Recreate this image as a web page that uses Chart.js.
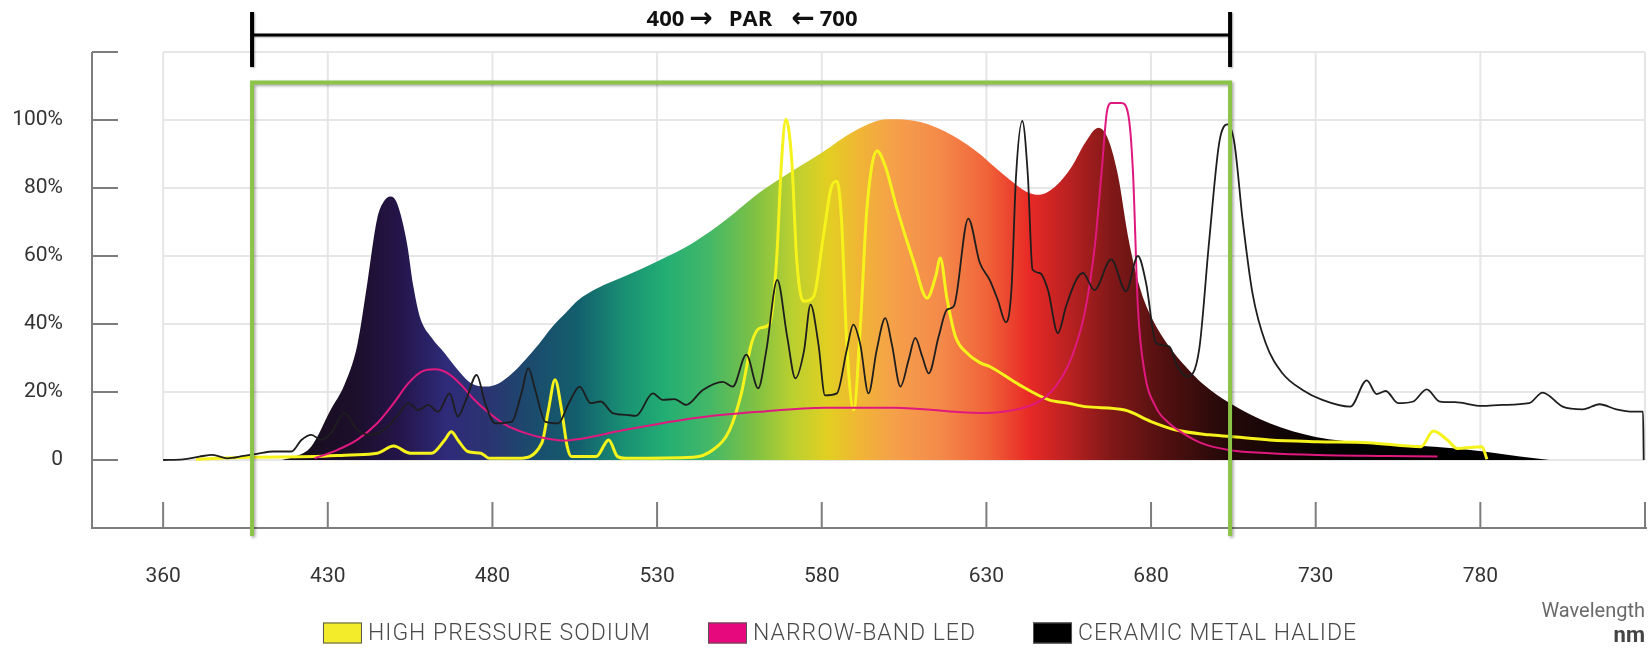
<!DOCTYPE html>
<html>
<head>
<meta charset="utf-8">
<script src="https://cdn.jsdelivr.net/npm/chart.js@4.4.1/dist/chart.umd.min.js"></script>
<style>
  html, body { margin: 0; padding: 0; background: #fff; }
</style>
</head>
<body>
<canvas id="spectrum" width="1648" height="648"></canvas>
<script>
// tick positions (nm) and what the original chart prints under them
const xTickValues = [380, 430, 480, 530, 580, 630, 680, 730, 780, 830];
const xTickLabels = ['360', '430', '480', '530', '580', '630', '680', '730', '780', ''];
const yTickValues = [-20, 0, 20, 40, 60, 80, 100, 120];
const yTickLabels = ['', '0', '20%', '40%', '60%', '80%', '100%', ''];

const parRange = [407, 704];
const parTitle = ['400', '\u2192', 'PAR', '\u2190', '700'];
const seriesLabels = ['HIGH PRESSURE SODIUM', 'NARROW-BAND LED', 'CERAMIC METAL HALIDE'];

// [wavelength nm, relative %]
const spectrumFill = [
  [416, 0], [420, 1], [425, 4], [431, 15], [435, 22], [439, 34], [442, 52], [445, 71], [447, 76],
  [449, 77.5], [451, 75.6], [454, 64], [456, 51], [458, 42], [461.5, 36], [465.5, 31.4], [469.5, 26.5],
  [473.5, 22.6], [478, 21.6], [482, 22.6], [486, 25.5], [490, 29.5], [494, 34], [498, 39], [502, 43],
  [506, 47], [512, 50.6], [520, 54], [530, 58.4], [541, 63.9], [551, 70.7], [561, 78.6], [571, 85],
  [580, 90.4], [590, 96.8], [600, 100.2], [610, 99.4], [620, 95.3], [628, 90], [631, 87.4], [637, 82.5],
  [642, 79], [646, 78], [651, 80.5], [656, 86.4], [660, 93.3], [664, 97.7], [667, 94.3], [670, 83.5],
  [673, 65.8], [676.5, 51], [680, 42.2], [685.5, 33.4], [690.5, 27.5], [695.5, 22.6], [704, 16.7],
  [716, 10.8], [730, 6.8], [746, 5], [766, 3.9], [781, 2.5], [792, 1], [801, 0]
];

const hps = [
  [390, 0.2], [406, 0.8], [426, 1], [437, 1.5], [445, 2], [450, 4.1], [455, 2], [461.5, 2], [465.5, 5.9],
  [467.5, 8.3], [469.5, 5.9], [472.5, 2.5], [476.5, 2], [479, 0.5], [488, 0.5], [495, 5], [497, 14.7],
  [499, 23.6], [501, 14.7], [502.7, 4], [504, 1], [511.5, 1], [515.3, 5.9], [518, 1], [520.5, 0.5],
  [541, 0.8], [547, 3], [552, 8.8], [555.6, 19.6], [558.7, 34.4], [561.2, 38.8], [564.2, 40], [566.3, 59],
  [567.8, 88], [569.1, 100.2], [570.9, 88], [572.4, 58.9], [574.4, 46.7], [577.5, 48], [580.5, 65.8],
  [583, 80.5], [584.6, 82], [586, 70.7], [587.6, 34.4], [589.7, 14.7], [591.7, 39], [593.7, 73.7],
  [596.8, 90.9], [599.3, 86.4], [602.9, 73.7], [607.9, 58.4], [612, 47.6], [614.6, 54], [616, 59.4],
  [618, 47.6], [620.6, 36.3], [624.2, 31.4], [628.3, 28.5], [631, 27.5], [640, 22.1], [649, 17.7],
  [655, 16.7], [660, 15.7], [672, 14.7], [680, 11.3], [687.6, 8.8], [697.7, 7.4], [704, 6.9], [716, 5.9],
  [730.5, 5.4], [746, 5.1], [762, 3.9], [765.7, 8.5], [770, 5.9], [773, 3.4], [780.5, 3.9], [782, 0.2]
];

const led = [
  [426, 0.5], [433, 3], [439, 6], [445, 10.8], [450, 16.7], [454.5, 22.6], [458.5, 26], [462.5, 26.7],
  [466.5, 25.5], [470.5, 22.1], [474.5, 17.7], [479, 13.8], [484, 10.3], [490, 7.9], [496, 6.4], [502, 5.7],
  [506, 6.1], [520, 8.8], [541, 12.3], [561, 14.2], [581, 15.4], [602, 15.4], [628, 13.8], [635, 14.2],
  [645, 16.7], [651, 21.6], [656, 30.5], [660, 44], [663, 63.6], [665, 85], [666.7, 103], [668, 105],
  [671, 105], [673, 102], [674.5, 85], [676, 45], [678, 26], [681.5, 15.5], [685.5, 10.8], [690.5, 7.4],
  [695.5, 4.9], [704, 2.9], [716, 2], [730.5, 1.5], [752, 1.2], [767, 1]
];

const cmh = [
  [380, 0], [386, 0.2], [391, 1], [395, 1.5], [399.5, 0.5], [404.5, 1.2], [408.5, 1.8], [413.5, 2.5],
  [419, 2.5], [422, 5.9], [425, 7.4], [428, 5.9], [431, 7.9], [435, 13.8], [439, 8.8], [443, 7.4],
  [447, 8.8], [451, 12.8], [454.5, 16.7], [457.5, 14.7], [460.5, 16.2], [463.5, 14.2], [467, 19.6],
  [469.5, 12.8], [472, 17.7], [475.2, 25], [477.8, 16.7], [480.8, 10.8], [485.9, 11.3], [488.8, 19.6],
  [490.9, 27], [493, 20.6], [496, 11.3], [500, 10.8], [503.2, 16.7], [506.5, 21.6], [509.8, 16.7],
  [512.9, 17.2], [516.5, 13.8], [520.5, 13.3], [523.6, 13], [528.7, 19.6], [531.7, 17.7], [535.3, 17.9],
  [538.8, 16.2], [543.9, 20.6], [550, 23], [553, 21.6], [557.1, 31], [560.7, 21.1], [563.2, 32.4],
  [566.5, 53], [569.5, 36.3], [572, 24], [574.6, 32], [576.6, 45.7], [579, 34], [581, 19], [584.6, 19.6],
  [587.6, 32.4], [589.6, 39.8], [591.7, 34], [594.2, 19.6], [596.7, 32.4], [599.3, 41.7], [601.3, 34],
  [603.9, 21.6], [606.4, 29.5], [608.4, 35.9], [610.5, 30.5], [612.5, 25.5], [615.5, 36.3], [618, 44.2],
  [620.1, 45.2], [624.5, 71], [628, 58], [631, 53], [633.5, 47], [635.9, 40.5], [637.6, 50], [639, 83.5],
  [640.9, 99.7], [642.6, 83.5], [644, 56], [646.2, 55], [648.7, 50], [651.7, 37.3], [654.2, 45.2],
  [657.3, 53], [659.3, 55], [662.8, 50], [667.9, 59], [672.4, 49.6], [676, 60], [678.5, 52], [681.5, 34.4],
  [685.5, 33.4], [688, 27.5], [691, 24.6], [694.6, 32.4], [697.6, 63.9], [700.7, 93.3], [703.2, 98.7],
  [705.3, 93.3], [707.8, 70.7], [710.8, 49.1], [714.8, 34.4], [719.9, 25.5], [726, 20.6], [732, 17.7],
  [740.5, 15.7], [745.5, 23.4], [748.5, 19.4], [751.3, 20.3], [755, 16.7], [759.6, 17.2], [763.7, 20.8],
  [767.7, 17.2], [772.3, 17], [780.5, 15.9], [786.6, 16.2], [794.8, 16.7], [798.9, 19.8], [805, 15.7],
  [811.1, 14.9], [816.2, 16.4], [821.3, 14.9], [826.4, 14.2], [829.4, 14.2], [829.6, 0]
];

const LABEL_FONT = "Roboto, 'Liberation Sans', sans-serif";

// colour of the big filled curve along the wavelength axis
const spectrumStops = [
  [418, '#150d18'], [440, '#1d0f2e'], [452, '#24154a'], [466, '#2f2b7a'], [478, '#2b3371'],
  [492, '#1b4b6d'], [506, '#135f6d'], [520, '#199073'], [532, '#22ad74'], [546, '#44b867'],
  [560, '#80c143'], [571, '#b9d030'], [582, '#e2cf22'], [591, '#f0b634'], [602, '#f5a04a'],
  [616, '#f48a4a'], [630, '#f06439'], [643, '#e82a26'], [655, '#ba2121'], [668, '#811818'],
  [684, '#521010'], [700, '#2b0a0a'], [720, '#110505'], [740, '#000000']
];

function toPoints(arr) {
  return arr.map(([x, y]) => ({ x, y }));
}

function spectrumGradient(context) {
  const chart = context.chart;
  const a = chart.chartArea;
  if (!a) return 'rgba(0,0,0,0)';
  const xs = chart.scales.x;
  const g = chart.ctx.createLinearGradient(a.left, 0, a.right, 0);
  spectrumStops.forEach(([nm, c]) => {
    const t = (xs.getPixelForValue(nm) - a.left) / (a.right - a.left);
    g.addColorStop(Math.min(1, Math.max(0, t)), c);
  });
  return g;
}

function line(ctx, x1, y1, x2, y2) {
  ctx.beginPath();
  ctx.moveTo(x1, y1);
  ctx.lineTo(x2, y2);
  ctx.stroke();
}

const decor = {
  id: 'decor',
  beforeDatasetsDraw(chart) {
    const { ctx, chartArea: a } = chart;
    const x = chart.scales.x, y = chart.scales.y;
    ctx.save();
    // light grid, only over the positive part
    ctx.strokeStyle = '#e6e6e6';
    ctx.lineWidth = 2;
    const gx0 = x.getPixelForValue(xTickValues[0]);
    const gx1 = x.getPixelForValue(xTickValues[xTickValues.length - 1]);
    const gTop = y.getPixelForValue(120), gZero = y.getPixelForValue(0);
    yTickValues.filter(v => v >= 0).forEach(v => {
      const py = y.getPixelForValue(v);
      line(ctx, gx0, py, gx1, py);
    });
    xTickValues.forEach(v => {
      const px = x.getPixelForValue(v);
      line(ctx, px, gTop, px, gZero);
    });
    // axes and inner ticks
    ctx.strokeStyle = '#7d7d7d';
    ctx.lineWidth = 2;
    line(ctx, a.left, a.top, a.left, a.bottom + 1);
    line(ctx, a.left, a.bottom, a.right + 2, a.bottom);
    yTickValues.filter(v => v >= 0).forEach(v => {
      const py = y.getPixelForValue(v);
      line(ctx, a.left, py, a.left + 26, py);
    });
    xTickValues.forEach(v => {
      const px = x.getPixelForValue(v);
      line(ctx, px, a.bottom, px, a.bottom - 26);
    });
    ctx.restore();
  },
  afterDatasetsDraw(chart) {
    const { ctx, chartArea: a } = chart;
    const x = chart.scales.x, y = chart.scales.y;
    const xl = x.getPixelForValue(parRange[0]), xr = x.getPixelForValue(parRange[1]);
    const top = y.getPixelForValue(111);
    ctx.save();
    ctx.shadowColor = 'rgba(0,0,0,0.35)';
    ctx.shadowBlur = 3;
    ctx.shadowOffsetX = 1.5;
    ctx.shadowOffsetY = 1.5;
    ctx.strokeStyle = '#8cc447';
    ctx.lineWidth = 4;
    ctx.lineJoin = 'miter';
    ctx.beginPath();
    ctx.moveTo(xl, a.bottom + 8);
    ctx.lineTo(xl, top);
    ctx.lineTo(xr, top);
    ctx.lineTo(xr, a.bottom + 8);
    ctx.stroke();
    ctx.restore();
  },
  afterDraw(chart) {
    const { ctx, width } = chart;
    const x = chart.scales.x, y = chart.scales.y;
    const xl = x.getPixelForValue(parRange[0]), xr = x.getPixelForValue(parRange[1]);
    const by = y.getPixelForValue(125);
    ctx.save();
    // PAR bracket
    ctx.shadowColor = 'rgba(0,0,0,0.3)';
    ctx.shadowBlur = 2;
    ctx.shadowOffsetX = 1;
    ctx.shadowOffsetY = 1;
    ctx.strokeStyle = '#000';
    ctx.lineWidth = 3;
    line(ctx, xl, by, xr, by);
    ctx.lineWidth = 4;
    line(ctx, xl, by - 23, xl, by + 32);
    line(ctx, xr, by - 23, xr, by + 32);
    ctx.shadowColor = 'rgba(0,0,0,0)';

    // "400 -> PAR <- 700", arrows set in a font that has big arrows
    const textFont = "bold 22px 'Open Sans', 'Liberation Sans', sans-serif";
    const arrowFont = "bold 28px 'DejaVu Sans', sans-serif";
    const gaps = [5, 16, 19, 5];
    const fonts = parTitle.map((t, i) => (i % 2 ? arrowFont : textFont));
    const ws = parTitle.map((t, i) => { ctx.font = fonts[i]; return ctx.measureText(t).width; });
    const total = ws.reduce((s, w) => s + w, 0) + gaps.reduce((s, g) => s + g, 0);
    let tx = (xl + xr) / 2 + 11 - total / 2;
    ctx.fillStyle = '#111';
    ctx.textAlign = 'left';
    ctx.textBaseline = 'alphabetic';
    parTitle.forEach((t, i) => {
      ctx.font = fonts[i];
      ctx.fillText(t, tx, by - 9 + (i % 2 ? 1 : 0));
      tx += ws[i] + (gaps[i] || 0);
    });

    // legend, in the order of seriesLabels
    const lines = seriesLabels.map(l => chart.data.datasets.find(d => d.label === l));
    ctx.font = '300 23px ' + LABEL_FONT;
    ctx.letterSpacing = '1px';
    ctx.textAlign = 'left';
    ctx.textBaseline = 'middle';
    const boxW = 39, boxH = 21, gapText = 6, gapItem = 57, ly = 633;
    const widths = lines.map(d => boxW + gapText + ctx.measureText(d.label).width);
    const total2 = widths.reduce((s, w) => s + w, 0) + gapItem * (lines.length - 1);
    let lx = 840 - total2 / 2;
    lines.forEach((d, i) => {
      ctx.fillStyle = d.legendColor;
      ctx.fillRect(lx, ly - boxH / 2, boxW, boxH);
      ctx.strokeStyle = '#555';
      ctx.lineWidth = 1;
      ctx.strokeRect(lx + 0.5, ly - boxH / 2 + 0.5, boxW - 1, boxH - 1);
      ctx.fillStyle = '#4a4a4a';
      ctx.fillText(d.label, lx + boxW + gapText, ly + 1);
      lx += widths[i] + gapItem;
    });
    ctx.letterSpacing = '0px';

    // unit
    ctx.textAlign = 'right';
    ctx.fillStyle = '#6a6a6a';
    ctx.font = '20px ' + LABEL_FONT;
    ctx.fillText('Wavelength', width - 3, 612);
    ctx.fillStyle = '#444';
    ctx.font = 'bold 22px ' + LABEL_FONT;
    ctx.fillText('nm', width - 3, 636);
    ctx.restore();
  }
};

new Chart(document.getElementById('spectrum'), {
  type: 'line',
  data: {
    datasets: [
      {
        label: seriesLabels[2],
        data: toPoints(cmh),
        borderColor: '#1e1e1e',
        legendColor: '#000000',
        borderWidth: 1.8,
        order: 0
      },
      {
        label: seriesLabels[1],
        data: toPoints(led),
        borderColor: '#e0197f',
        legendColor: '#e6097e',
        borderWidth: 2,
        order: 1
      },
      {
        label: seriesLabels[0],
        data: toPoints(hps),
        borderColor: '#f6f31c',
        legendColor: '#f3ec2a',
        borderWidth: 3,
        order: 2
      },
      {
        label: 'spectrum',
        data: toPoints(spectrumFill),
        borderColor: 'rgba(0,0,0,0)',
        borderWidth: 0,
        backgroundColor: spectrumGradient,
        fill: 'origin',
        order: 3
      }
    ]
  },
  options: {
    responsive: false,
    animation: false,
    elements: {
      point: { radius: 0, hoverRadius: 0 },
      line: { cubicInterpolationMode: 'monotone' }
    },
    layout: { padding: { top: 52, right: 3, left: 0, bottom: 0 } },
    plugins: {
      legend: { display: false },
      tooltip: { enabled: false }
    },
    scales: {
      x: {
        type: 'linear',
        min: 358.4,
        max: 830,
        // tickLength only spaces the labels away from the axis; the grid itself is drawn by the plugin
        grid: { display: false, drawTicks: true, tickLength: 36 },
        border: { display: false },
        afterFit(scale) { scale.height = 120; },
        afterBuildTicks(scale) { scale.ticks = xTickValues.map(v => ({ value: v })); },
        ticks: {
          autoSkip: false,
          maxRotation: 0,
          padding: 0,
          color: '#333',
          font: { family: LABEL_FONT, size: 21 },
          callback: (value, index) => xTickLabels[index]
        }
      },
      y: {
        min: -20,
        max: 120,
        grid: { display: false, drawTicks: false },
        border: { display: false },
        afterFit(scale) { scale.width = 92; },
        afterBuildTicks(scale) { scale.ticks = yTickValues.map(v => ({ value: v })); },
        ticks: {
          padding: 29,
          color: '#333',
          font: { family: LABEL_FONT, size: 21 },
          callback: (value, index) => yTickLabels[index]
        }
      }
    }
  },
  plugins: [decor]
});
</script>
</body>
</html>
